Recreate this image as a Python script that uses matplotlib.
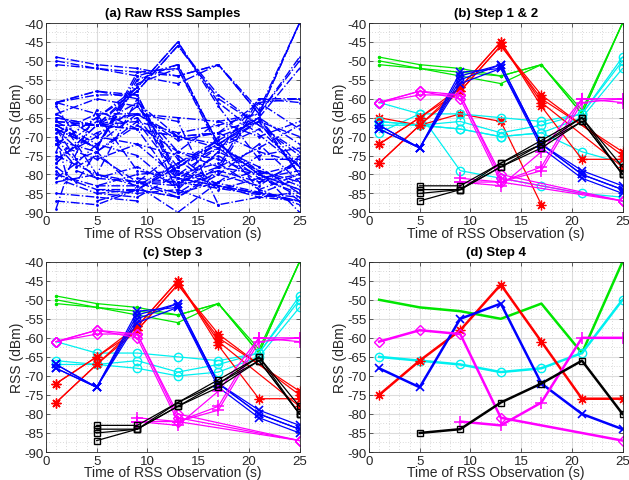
import matplotlib
matplotlib.use('Agg')
import matplotlib.pyplot as plt
from matplotlib.ticker import MultipleLocator

plt.rcParams['font.family'] = ['Liberation Sans', 'DejaVu Sans']
plt.rcParams['axes.unicode_minus'] = False

## Data: each trace is (times, RSS values)
# green group (point marker)
green_t = [[1, 5, 9, 13, 17, 21, 25], [1, 5, 9, 13, 17, 21, 25], [1, 5, 9, 13, 17, 21, 25]]
green_v = [[-49, -51, -52, -54, -51, -63, -40], [-50, -52, -53, -54, -51, -64, -40],
           [-51, -52, -54, -56, -51, -64, -40]]
# cyan group (circles)
cyan_t = [[1, 5, 9, 13, 17, 21, 25], [1, 5, 9, 13, 17, 21, 25], [1, 5, 9, 13, 17, 21, 25]]
cyan_v = [[-61, -64, -64, -65, -66, -64, -49], [-66, -67, -66, -69, -67, -64, -50],
          [-67, -67, -68, -70, -69, -65, -52]]
cyan_out_t = [[1, 5, 9, 13, 17, 21, 25], [1, 5, 9, 13, 17, 21, 25]]
cyan_out_v = [[-69, -64, -79, -81, -83, -85, -86], [-66, -67, -68, -70, -69, -74, -77]]
# red group (asterisks)
red_t = [[1, 5, 9, 13, 17, 21, 25], [1, 5, 9, 13, 17, 25], [1, 5, 9, 13, 17, 25], [1, 5, 9, 13, 17, 25]]
red_v = [[-72, -65, -57, -45, -62, -76, -76], [-77, -67, -58, -46, -60, -74],
         [-72, -65, -58, -46, -59, -75], [-77, -67, -57, -45, -61, -78]]
red_out_t = [[1, 5, 9, 13, 17]]
red_out_v = [[-65, -67, -64, -66, -88]]
# blue group (crosses)
blue_t = [[1, 5, 9, 13, 17, 21, 25]] * 4
blue_v = [[-67, -73, -54, -51, -72, -79, -83], [-68, -73, -55, -51, -72, -80, -84],
          [-67, -73, -53, -52, -73, -81, -85], [-68, -73, -56, -52, -72, -80, -84]]
# magenta group (diamonds)
mdia_t = [[1, 5, 9, 13, 25]] * 3
mdia_v = [[-61, -58, -59, -80, -87], [-61, -59, -59, -81, -87], [-61, -58, -60, -82, -87]]
# magenta group (plus)
mplus_t = [[9, 13, 17, 21, 25]] * 3
mplus_v = [[-81, -82, -78, -60, -60], [-82, -83, -74, -60, -61], [-82, -82, -79, -61, -60]]
# black group (squares)
black_t = [[5, 9, 13, 17, 21, 25]] * 4
black_v = [[-83, -83, -77, -71, -65, -78], [-84, -84, -77, -72, -65, -80],
           [-85, -84, -78, -72, -66, -80], [-87, -84, -78, -73, -66, -80]]

# extra raw samples only present in (a)
raw_t = [[1, 5, 9, 13, 17, 21, 25], [1, 5, 9, 13, 17, 21, 25], [1, 3, 5, 9, 13, 17, 21, 25],
         [1, 2, 5, 9, 13, 17, 21, 25], [1, 3, 5, 9, 13, 17, 21, 25], [1, 2, 5, 9, 13, 17, 21, 25],
         [1, 5, 9, 13, 17, 21, 25], [1, 3, 5, 9, 13, 17, 21, 25], [1, 2, 5, 9, 13, 17, 21, 25],
         [1, 5, 9, 13, 17, 21, 25], [1, 3, 5, 9, 13, 17, 21, 25], [1, 5, 9, 13, 17, 21, 25],
         [1, 5, 9], [1, 5, 9, 13], [1, 2, 5, 9, 13, 17, 21, 24, 25], [1, 5, 9, 13, 17, 21, 25],
         [1, 3, 5, 9, 13, 17, 21, 25], [2, 5, 9, 13, 17, 21, 25], [1, 5, 9, 13, 17, 21, 24, 25],
         [3, 5, 9, 13, 17, 21, 25], [1, 5, 9, 13, 17, 21, 25], [1, 2, 5, 9, 13, 17, 21, 25],
         [1, 5, 9, 13, 17, 21, 25], [1, 3, 5, 9, 13, 17, 21, 25]]
raw_v = [[-64, -70, -62, -74, -66, -70, -66], [-66, -72, -64, -70, -72, -65, -72],
         [-68, -76, -74, -66, -80, -73, -68, -78], [-70, -80, -63, -68, -83, -80, -72, -82],
         [-72, -78, -75, -82, -74, -76, -80, -86], [-74, -68, -80, -60, -85, -82, -75, -73],
         [-76, -69, -65, -78, -71, -84, -80], [-78, -82, -74, -84, -86, -79, -82, -77],
         [-79, -82, -85, -86, -80, -77, -84, -88], [-80, -83, -80, -79, -83, -86, -87],
         [-81, -77, -72, -75, -84, -74, -79, -82], [-82, -80, -83, -90, -82, -79, -90],
         [-85, -86, -87], [-87, -88, -84, -86], [-89, -81, -84, -85, -84, -88, -86, -85, -87],
         [-65, -67, -61, -70, -73, -78, -85], [-62, -70, -66, -64, -71, -69, -61, -68],
         [-73, -76, -72, -81, -75, -82, -80], [-71, -74, -67, -74, -78, -80, -78, -75],
         [-79, -81, -78, -83, -70, -66, -70], [-64, -60, -62, -76, -84, -81, -79],
         [-70, -74, -81, -82, -86, -80, -83, -76], [-75, -80, -82, -85, -78, -73, -67],
         [-68, -73, -70, -72, -75, -83, -85, -81]]

# step 4 (one trace per group)
s4_green_t, s4_green_v = [1, 5, 9, 13, 17, 21, 25], [-50, -52, -53, -55, -51, -64, -40]
s4_cyan_t, s4_cyan_v = [1, 5, 9, 13, 17, 21, 25], [-65, -66, -67, -69, -68, -64, -50]
s4_red_t, s4_red_v = [1, 5, 9, 13, 17, 21, 25], [-75, -66, -58, -46, -61, -76, -76]
s4_blue_t, s4_blue_v = [1, 5, 9, 13, 17, 21, 25], [-68, -73, -55, -51, -72, -80, -84]
s4_mdia_t, s4_mdia_v = [1, 5, 9, 13, 25], [-61, -58, -59, -81, -87]
s4_mplus_t, s4_mplus_v = [9, 13, 17, 21, 25], [-82, -83, -77, -60, -60]
s4_black_t, s4_black_v = [5, 9, 13, 17, 21, 25], [-85, -84, -77, -72, -66, -80]

GREEN = '#00e600'
CYAN = '#00f0f0'
MAG = '#ff00ff'
ASTER = (8, 2, 0)
styles = {
    'green': dict(color=GREEN, marker='.', ms=3),
    'cyan': dict(color=CYAN, marker='o', mfc='none', ms=6),
    'red': dict(color='#ff0000', marker=ASTER, ms=7, mew=0.9),
    'blue': dict(color='#0000ff', marker='x', ms=6, mew=1.2),
    'mdia': dict(color=MAG, marker='D', mfc='none', ms=5),
    'mplus': dict(color=MAG, marker='+', ms=8, mew=1.1),
    'black': dict(color='k', marker='s', mfc='none', ms=5),
}


def setup(ax, title):
    ax.set_xlim(0, 25)
    ax.set_ylim(-90, -40)
    ax.xaxis.set_major_locator(MultipleLocator(5))
    ax.yaxis.set_major_locator(MultipleLocator(5))
    ax.xaxis.set_minor_locator(MultipleLocator(1))
    ax.yaxis.set_minor_locator(MultipleLocator(2.5))
    ax.grid(True, which='major', color='#dcdcdc', lw=0.8)
    ax.grid(True, which='minor', color='#b8b8b8', lw=0.5, ls=(0, (1, 3)))
    ax.set_axisbelow(True)
    ax.tick_params(which='both', direction='in', top=True, right=True,
                   labelsize=9.5, colors='#262626', width=0.5, pad=2)
    ax.tick_params(which='major', length=3)
    ax.tick_params(which='minor', length=0)
    for s in ax.spines.values():
        s.set_color('#262626')
        s.set_linewidth(0.6)
    ax.set_title(title, fontsize=9.5, fontweight='bold', pad=5)
    ax.set_xlabel('Time of RSS Observation (s)', fontsize=10, color='#262626', labelpad=-1)
    ax.set_ylabel('RSS (dBm)', fontsize=10, color='#262626', labelpad=0)


def draw_groups(ax, groups, lw):
    for name, ts, vs in groups:
        for t, v in zip(ts, vs):
            ax.plot(t, v, lw=lw, **styles[name])


fig = plt.figure(figsize=(6.29, 4.81), dpi=100)
ax_a = fig.add_axes([0.0731, 0.5565, 0.4031, 0.3936])
ax_b = fig.add_axes([0.5866, 0.5565, 0.4031, 0.3936])
ax_c = fig.add_axes([0.0731, 0.0582, 0.4031, 0.3956])
ax_d = fig.add_axes([0.5866, 0.0582, 0.4031, 0.3956])

main_groups = [('green', green_t, green_v), ('cyan', cyan_t, cyan_v), ('red', red_t, red_v),
               ('blue', blue_t, blue_v), ('mdia', mdia_t, mdia_v), ('mplus', mplus_t, mplus_v),
               ('black', black_t, black_v)]
out_groups = [('cyan', cyan_out_t, cyan_out_v), ('red', red_out_t, red_out_v)]

# (a) raw samples, all blue dash-dot
all_t = raw_t + cyan_out_t + red_out_t
all_v = raw_v + cyan_out_v + red_out_v
for _, ts, vs in main_groups:
    all_t = all_t + ts
    all_v = all_v + vs
for t, v in zip(all_t, all_v):
    ax_a.plot(t, v, color='#0000ff', ls='-.', lw=1.0, marker='.', ms=2)
setup(ax_a, '(a) Raw RSS Samples')

# (b) step 1 & 2
draw_groups(ax_b, out_groups + main_groups, 0.9)
setup(ax_b, '(b) Step 1 & 2')

# (c) step 3
draw_groups(ax_c, main_groups, 0.9)
setup(ax_c, '(c) Step 3')

# (d) step 4
s4 = [('green', s4_green_t, s4_green_v), ('cyan', s4_cyan_t, s4_cyan_v), ('red', s4_red_t, s4_red_v),
      ('blue', s4_blue_t, s4_blue_v), ('mdia', s4_mdia_t, s4_mdia_v), ('mplus', s4_mplus_t, s4_mplus_v),
      ('black', s4_black_t, s4_black_v)]
for name, t, v in s4:
    st = dict(styles[name])
    if name == 'green':
        st['marker'] = None
    ax_d.plot(t, v, lw=1.8, **st)
setup(ax_d, '(d) Step 4')

plt.savefig('out.png', dpi=100)
